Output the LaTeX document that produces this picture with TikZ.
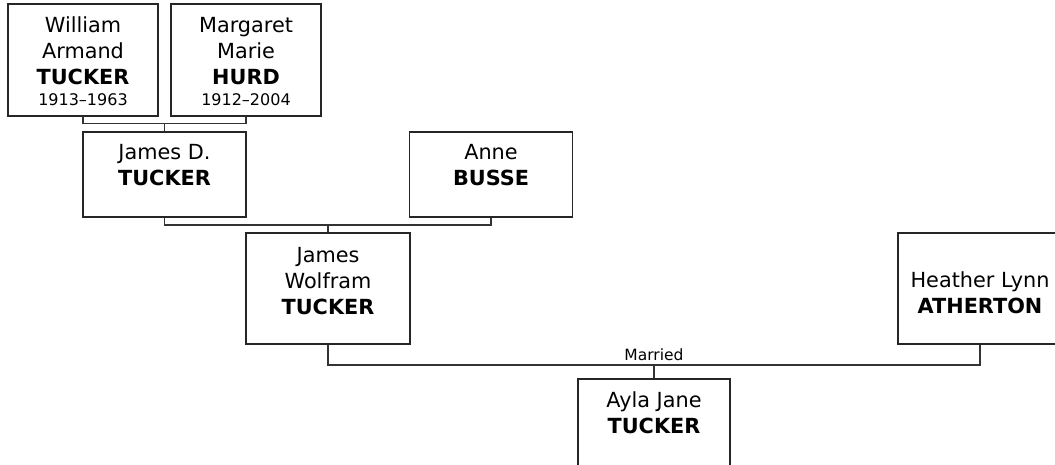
\documentclass[tikz,border=0pt]{standalone}
\usepackage{fontspec}
\setmainfont{DejaVu Sans}
\usetikzlibrary{positioning}

\newcommand{\yearfont}{\fontsize{16}{21}\selectfont}

\begin{document}
\begin{tikzpicture}[x=1pt, y=-1pt,
    person/.style={draw=black!85, line width=1.2pt, minimum width=163pt, minimum height=111pt, inner sep=0pt},
    nametext/.style={align=center, inner sep=0pt, font=\fontsize{20.8}{26}\selectfont},
    link/.style={draw=black!80, line width=1.2pt}]
\useasboundingbox (0,0) rectangle (1055,464);
\clip (0,0) rectangle (1055,464);

\node[person, minimum width=150pt, minimum height=112pt] (william) at (83,60) {};
\node[person, minimum width=150pt, minimum height=112pt] (margaret) at (246,60) {};
\node[person, minimum height=85pt] (jamesd) at (164.5,174.5) {};
\node[person, minimum height=85pt] (anne) at (491,174.5) {};
\node[person, minimum width=164pt] (jamesw) at (328,288.5) {};
\node[person, minimum width=164pt] (heather) at (980,288.5) {};
\node[person, minimum width=152pt] (ayla) at (654,434.5) {};

\node[nametext, below=13.5pt of william.north] (william-t) {William\\Armand\\\textbf{TUCKER}\\[-5pt]{\yearfont 1913--1963}};
\node[nametext, below=13.5pt of margaret.north] (margaret-t) {Margaret\\Marie\\\textbf{HURD}\\[-5pt]{\yearfont 1912--2004}};
\node[nametext, below=12.5pt of jamesd.north] (jamesd-t) {James D.\\\textbf{TUCKER}};
\node[nametext, below=12.5pt of anne.north] (anne-t) {Anne\\\textbf{BUSSE}};
\node[nametext, below=14.5pt of jamesw.north] (jamesw-t) {James\\Wolfram\\\textbf{TUCKER}};
\node[nametext, below=39.5pt of heather.north] (heather-t) {Heather Lynn\\\textbf{ATHERTON}};
\node[nametext, below=13.5pt of ayla.north] (ayla-t) {Ayla Jane\\\textbf{TUCKER}};

\coordinate (wm) at (164.5,123.5);
\coordinate (da) at (328,225);
\coordinate (wh) at (654,365);

\draw[link] (william.south) |- (wm) -| (margaret.south);
\draw[link] (wm) -- (jamesd.north);
\draw[link] (jamesd.south) |- (da) -| (anne.south);
\draw[link] (da) -- (jamesw.north);
\draw[link] (jamesw.south) |- (wh) -| (heather.south);
\draw[link] (wh) -- (ayla.north);
\node[inner sep=0pt, above=4pt of wh, font=\fontsize{15.5}{18}\selectfont] (married) {Married};
\end{tikzpicture}
\end{document}
